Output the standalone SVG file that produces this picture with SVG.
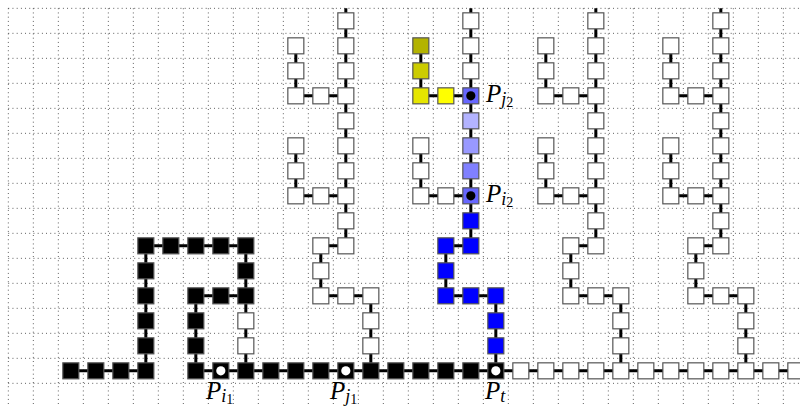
<svg xmlns="http://www.w3.org/2000/svg" xmlns:xlink="http://www.w3.org/1999/xlink" width="800" height="407" viewBox="0 0 800 407">
<style>
.grid{fill:none;stroke:#222;stroke-width:0.85;stroke-dasharray:0.85 3.35}
.edge{fill:none;stroke:#000;stroke-width:3}
use{stroke:#555;stroke-width:1.2}
.w{fill:#fff}.k{fill:#000}
.y1{fill:#b3b300}.y2{fill:#cccc00}.y3{fill:#e6e600}.y4{fill:#ffff00}
.b3{fill:#b3b3ff}.b4{fill:#9999ff}.b5{fill:#8080ff}.b6{fill:#6666ff}.b{fill:#0000ff}
.dk{fill:#000}.dw{fill:#fff}
.lab{font-family:"Liberation Serif",serif;font-style:italic;font-size:25px;fill:#000}
.s1{font-size:18px}.s2{font-size:14px;font-style:normal}
</style>
<defs><rect id="sq" x="-8" y="-8" width="16" height="16"/></defs>
<rect width="800" height="407" fill="#fff"/>
<g id="grid">
<path class="grid" d="M8.33 8.33H800M8.33 33.33H800M8.33 58.33H800M8.33 83.33H800M8.33 108.33H800M8.33 133.33H800M8.33 158.33H800M8.33 183.33H800M8.33 208.33H800M8.33 233.33H800M8.33 258.33H800M8.33 283.33H800M8.33 308.33H800M8.33 333.33H800M8.33 358.33H800M8.33 383.33H800"/>
<path class="grid" d="M8.33 8.33V407M33.33 8.33V407M58.33 8.33V407M83.33 8.33V407M108.33 8.33V407M133.33 8.33V407M158.33 8.33V407M183.33 8.33V407M208.33 8.33V407M233.33 8.33V407M258.33 8.33V407M283.33 8.33V407M308.33 8.33V407M333.33 8.33V407M358.33 8.33V407M383.33 8.33V407M408.33 8.33V407M433.33 8.33V407M458.33 8.33V407M483.33 8.33V407M508.33 8.33V407M533.33 8.33V407M558.33 8.33V407M583.33 8.33V407M608.33 8.33V407M633.33 8.33V407M658.33 8.33V407M683.33 8.33V407M708.33 8.33V407M733.33 8.33V407M758.33 8.33V407M783.33 8.33V407"/>
</g>
<g transform="translate(20.83,20.83)">
<g id="connectors">
<path class="edge" d="M50 350H125M175 350H790"/>
<path class="edge" d="M125 225V350M125 225H225M225 225V350M175 275H225M175 275V350"/>
<path class="edge" d="M325 -12.5V225M275 25V75H325M275 125V175H325M325 225H300V275H350V350"/>
<path class="edge" d="M450 -12.5V225M400 25V75H450M400 125V175H450M450 225H425V275H475V350"/>
<path class="edge" d="M575 -12.5V225M525 25V75H575M525 125V175H575M575 225H550V275H600V350"/>
<path class="edge" d="M700 -12.5V225M650 25V75H700M650 125V175H700M700 225H675V275H725V350"/>
</g>
<g id="bottom-row">
<g id="n2_14"><use href="#sq" x="50" y="350" class="k"/></g>
<g id="n3_14"><use href="#sq" x="75" y="350" class="k"/></g>
<g id="n4_14"><use href="#sq" x="100" y="350" class="k"/></g>
<g id="n5_14"><use href="#sq" x="125" y="350" class="k"/></g>
<g id="n7_14"><use href="#sq" x="175" y="350" class="k"/></g>
<g id="n8_14"><use href="#sq" x="200" y="350" class="k"/><circle cx="200" cy="350" r="4.6" class="dw"/></g>
<g id="n9_14"><use href="#sq" x="225" y="350" class="k"/></g>
<g id="n10_14"><use href="#sq" x="250" y="350" class="k"/></g>
<g id="n11_14"><use href="#sq" x="275" y="350" class="k"/></g>
<g id="n12_14"><use href="#sq" x="300" y="350" class="k"/></g>
<g id="n13_14"><use href="#sq" x="325" y="350" class="k"/><circle cx="325" cy="350" r="4.6" class="dw"/></g>
<g id="n14_14"><use href="#sq" x="350" y="350" class="k"/></g>
<g id="n15_14"><use href="#sq" x="375" y="350" class="k"/></g>
<g id="n16_14"><use href="#sq" x="400" y="350" class="k"/></g>
<g id="n17_14"><use href="#sq" x="425" y="350" class="k"/></g>
<g id="n18_14"><use href="#sq" x="450" y="350" class="k"/></g>
<g id="n19_14"><use href="#sq" x="475" y="350" class="k"/><circle cx="475" cy="350" r="4.6" class="dw"/></g>
<g id="n20_14"><use href="#sq" x="500" y="350" class="w"/></g>
<g id="n21_14"><use href="#sq" x="525" y="350" class="w"/></g>
<g id="n22_14"><use href="#sq" x="550" y="350" class="w"/></g>
<g id="n23_14"><use href="#sq" x="575" y="350" class="w"/></g>
<g id="n24_14"><use href="#sq" x="600" y="350" class="w"/></g>
<g id="n25_14"><use href="#sq" x="625" y="350" class="w"/></g>
<g id="n26_14"><use href="#sq" x="650" y="350" class="w"/></g>
<g id="n27_14"><use href="#sq" x="675" y="350" class="w"/></g>
<g id="n28_14"><use href="#sq" x="700" y="350" class="w"/></g>
<g id="n29_14"><use href="#sq" x="725" y="350" class="w"/></g>
<g id="n30_14"><use href="#sq" x="750" y="350" class="w"/></g>
<g id="n31_14"><use href="#sq" x="775" y="350" class="w"/></g>
</g>
<g id="black-loop">
<g id="n5_9"><use href="#sq" x="125" y="225" class="k"/></g>
<g id="n5_10"><use href="#sq" x="125" y="250" class="k"/></g>
<g id="n5_11"><use href="#sq" x="125" y="275" class="k"/></g>
<g id="n5_12"><use href="#sq" x="125" y="300" class="k"/></g>
<g id="n5_13"><use href="#sq" x="125" y="325" class="k"/></g>
<g id="n6_9"><use href="#sq" x="150" y="225" class="k"/></g>
<g id="n7_9"><use href="#sq" x="175" y="225" class="k"/></g>
<g id="n8_9"><use href="#sq" x="200" y="225" class="k"/></g>
<g id="n9_9"><use href="#sq" x="225" y="225" class="k"/></g>
<g id="n9_10"><use href="#sq" x="225" y="250" class="k"/></g>
<g id="n9_11"><use href="#sq" x="225" y="275" class="k"/></g>
<g id="n7_11"><use href="#sq" x="175" y="275" class="k"/></g>
<g id="n8_11"><use href="#sq" x="200" y="275" class="k"/></g>
<g id="n7_12"><use href="#sq" x="175" y="300" class="k"/></g>
<g id="n7_13"><use href="#sq" x="175" y="325" class="k"/></g>
<g id="n9_12"><use href="#sq" x="225" y="300" class="w"/></g>
<g id="n9_13"><use href="#sq" x="225" y="325" class="w"/></g>
</g>
<g id="tree1">
<g id="n13_0"><use href="#sq" x="325" y="0" class="w"/></g>
<g id="n13_1"><use href="#sq" x="325" y="25" class="w"/></g>
<g id="n13_2"><use href="#sq" x="325" y="50" class="w"/></g>
<g id="n13_3"><use href="#sq" x="325" y="75" class="w"/></g>
<g id="n13_4"><use href="#sq" x="325" y="100" class="w"/></g>
<g id="n13_5"><use href="#sq" x="325" y="125" class="w"/></g>
<g id="n13_6"><use href="#sq" x="325" y="150" class="w"/></g>
<g id="n13_7"><use href="#sq" x="325" y="175" class="w"/></g>
<g id="n13_8"><use href="#sq" x="325" y="200" class="w"/></g>
<g id="n13_9"><use href="#sq" x="325" y="225" class="w"/></g>
<g id="n11_1"><use href="#sq" x="275" y="25" class="w"/></g>
<g id="n11_2"><use href="#sq" x="275" y="50" class="w"/></g>
<g id="n11_3"><use href="#sq" x="275" y="75" class="w"/></g>
<g id="n11_5"><use href="#sq" x="275" y="125" class="w"/></g>
<g id="n11_6"><use href="#sq" x="275" y="150" class="w"/></g>
<g id="n11_7"><use href="#sq" x="275" y="175" class="w"/></g>
<g id="n12_3"><use href="#sq" x="300" y="75" class="w"/></g>
<g id="n12_7"><use href="#sq" x="300" y="175" class="w"/></g>
<g id="n12_9"><use href="#sq" x="300" y="225" class="w"/></g>
<g id="n12_10"><use href="#sq" x="300" y="250" class="w"/></g>
<g id="n12_11"><use href="#sq" x="300" y="275" class="w"/></g>
<g id="n13_11"><use href="#sq" x="325" y="275" class="w"/></g>
<g id="n14_11"><use href="#sq" x="350" y="275" class="w"/></g>
<g id="n14_12"><use href="#sq" x="350" y="300" class="w"/></g>
<g id="n14_13"><use href="#sq" x="350" y="325" class="w"/></g>
</g>
<g id="tree2">
<g id="n18_0"><use href="#sq" x="450" y="0" class="w"/></g>
<g id="n18_1"><use href="#sq" x="450" y="25" class="w"/></g>
<g id="n18_2"><use href="#sq" x="450" y="50" class="w"/></g>
<g id="n18_3"><use href="#sq" x="450" y="75" class="b6"/><circle cx="450" cy="75" r="4.6" class="dk"/></g>
<g id="n18_4"><use href="#sq" x="450" y="100" class="b3"/></g>
<g id="n18_5"><use href="#sq" x="450" y="125" class="b4"/></g>
<g id="n18_6"><use href="#sq" x="450" y="150" class="b5"/></g>
<g id="n18_7"><use href="#sq" x="450" y="175" class="b6"/><circle cx="450" cy="175" r="4.6" class="dk"/></g>
<g id="n18_8"><use href="#sq" x="450" y="200" class="b"/></g>
<g id="n18_9"><use href="#sq" x="450" y="225" class="b"/></g>
<g id="n16_1"><use href="#sq" x="400" y="25" class="y1"/></g>
<g id="n16_2"><use href="#sq" x="400" y="50" class="y2"/></g>
<g id="n16_3"><use href="#sq" x="400" y="75" class="y3"/></g>
<g id="n16_5"><use href="#sq" x="400" y="125" class="w"/></g>
<g id="n16_6"><use href="#sq" x="400" y="150" class="w"/></g>
<g id="n16_7"><use href="#sq" x="400" y="175" class="w"/></g>
<g id="n17_3"><use href="#sq" x="425" y="75" class="y4"/></g>
<g id="n17_7"><use href="#sq" x="425" y="175" class="w"/></g>
<g id="n17_9"><use href="#sq" x="425" y="225" class="b"/></g>
<g id="n17_10"><use href="#sq" x="425" y="250" class="b"/></g>
<g id="n17_11"><use href="#sq" x="425" y="275" class="b"/></g>
<g id="n18_11"><use href="#sq" x="450" y="275" class="b"/></g>
<g id="n19_11"><use href="#sq" x="475" y="275" class="b"/></g>
<g id="n19_12"><use href="#sq" x="475" y="300" class="b"/></g>
<g id="n19_13"><use href="#sq" x="475" y="325" class="b"/></g>
</g>
<g id="tree3">
<g id="n23_0"><use href="#sq" x="575" y="0" class="w"/></g>
<g id="n23_1"><use href="#sq" x="575" y="25" class="w"/></g>
<g id="n23_2"><use href="#sq" x="575" y="50" class="w"/></g>
<g id="n23_3"><use href="#sq" x="575" y="75" class="w"/></g>
<g id="n23_4"><use href="#sq" x="575" y="100" class="w"/></g>
<g id="n23_5"><use href="#sq" x="575" y="125" class="w"/></g>
<g id="n23_6"><use href="#sq" x="575" y="150" class="w"/></g>
<g id="n23_7"><use href="#sq" x="575" y="175" class="w"/></g>
<g id="n23_8"><use href="#sq" x="575" y="200" class="w"/></g>
<g id="n23_9"><use href="#sq" x="575" y="225" class="w"/></g>
<g id="n21_1"><use href="#sq" x="525" y="25" class="w"/></g>
<g id="n21_2"><use href="#sq" x="525" y="50" class="w"/></g>
<g id="n21_3"><use href="#sq" x="525" y="75" class="w"/></g>
<g id="n21_5"><use href="#sq" x="525" y="125" class="w"/></g>
<g id="n21_6"><use href="#sq" x="525" y="150" class="w"/></g>
<g id="n21_7"><use href="#sq" x="525" y="175" class="w"/></g>
<g id="n22_3"><use href="#sq" x="550" y="75" class="w"/></g>
<g id="n22_7"><use href="#sq" x="550" y="175" class="w"/></g>
<g id="n22_9"><use href="#sq" x="550" y="225" class="w"/></g>
<g id="n22_10"><use href="#sq" x="550" y="250" class="w"/></g>
<g id="n22_11"><use href="#sq" x="550" y="275" class="w"/></g>
<g id="n23_11"><use href="#sq" x="575" y="275" class="w"/></g>
<g id="n24_11"><use href="#sq" x="600" y="275" class="w"/></g>
<g id="n24_12"><use href="#sq" x="600" y="300" class="w"/></g>
<g id="n24_13"><use href="#sq" x="600" y="325" class="w"/></g>
</g>
<g id="tree4">
<g id="n28_0"><use href="#sq" x="700" y="0" class="w"/></g>
<g id="n28_1"><use href="#sq" x="700" y="25" class="w"/></g>
<g id="n28_2"><use href="#sq" x="700" y="50" class="w"/></g>
<g id="n28_3"><use href="#sq" x="700" y="75" class="w"/></g>
<g id="n28_4"><use href="#sq" x="700" y="100" class="w"/></g>
<g id="n28_5"><use href="#sq" x="700" y="125" class="w"/></g>
<g id="n28_6"><use href="#sq" x="700" y="150" class="w"/></g>
<g id="n28_7"><use href="#sq" x="700" y="175" class="w"/></g>
<g id="n28_8"><use href="#sq" x="700" y="200" class="w"/></g>
<g id="n28_9"><use href="#sq" x="700" y="225" class="w"/></g>
<g id="n26_1"><use href="#sq" x="650" y="25" class="w"/></g>
<g id="n26_2"><use href="#sq" x="650" y="50" class="w"/></g>
<g id="n26_3"><use href="#sq" x="650" y="75" class="w"/></g>
<g id="n26_5"><use href="#sq" x="650" y="125" class="w"/></g>
<g id="n26_6"><use href="#sq" x="650" y="150" class="w"/></g>
<g id="n26_7"><use href="#sq" x="650" y="175" class="w"/></g>
<g id="n27_3"><use href="#sq" x="675" y="75" class="w"/></g>
<g id="n27_7"><use href="#sq" x="675" y="175" class="w"/></g>
<g id="n27_9"><use href="#sq" x="675" y="225" class="w"/></g>
<g id="n27_10"><use href="#sq" x="675" y="250" class="w"/></g>
<g id="n27_11"><use href="#sq" x="675" y="275" class="w"/></g>
<g id="n28_11"><use href="#sq" x="700" y="275" class="w"/></g>
<g id="n29_11"><use href="#sq" x="725" y="275" class="w"/></g>
<g id="n29_12"><use href="#sq" x="725" y="300" class="w"/></g>
<g id="n29_13"><use href="#sq" x="725" y="325" class="w"/></g>
</g>
</g>
<g id="labels">
<text x="486" y="102" class="lab">P<tspan class="s1" dy="3">j</tspan><tspan class="s2" dy="2">2</tspan></text>
<text x="486" y="202" class="lab">P<tspan class="s1" dy="3">i</tspan><tspan class="s2" dy="2">2</tspan></text>
<text x="206" y="399" class="lab">P<tspan class="s1" dy="3">i</tspan><tspan class="s2" dy="2">1</tspan></text>
<text x="330" y="399" class="lab">P<tspan class="s1" dy="3">j</tspan><tspan class="s2" dy="2">1</tspan></text>
<text x="485" y="399" class="lab">P<tspan class="s1" dy="3">t</tspan></text>
</g>
</svg>
